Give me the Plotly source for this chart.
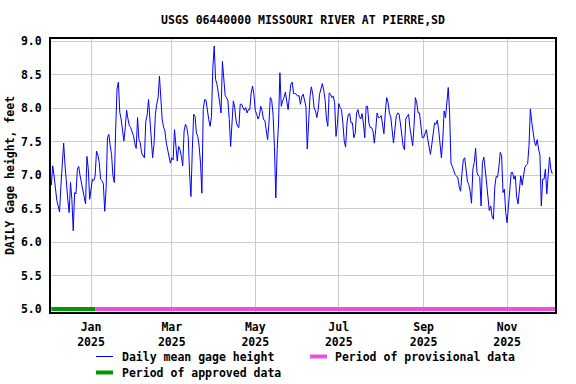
import pandas as pd
import plotly.graph_objects as go

# ---------------- data ----------------
start_date = "2024-12-03"

gh_dec_jan = [6.85, 7.14, 6.99, 6.77, 6.62, 6.54, 6.45, 6.84, 7.17, 7.48,
              7.15, 6.84, 6.64, 6.44, 6.89, 6.64, 6.17, 6.74, 6.72, 7.09,
              7.13, 6.99, 6.89, 6.77, 6.67, 6.57, 7.28, 7.09, 6.64, 6.79,
              6.94, 6.92, 6.99, 7.36, 7.30, 7.19, 6.94, 6.92, 6.87, 6.46,
              6.79, 7.56, 7.61, 7.44, 7.31, 6.99, 6.89, 7.69, 8.29, 8.39,
              7.94, 7.84, 7.64, 7.51, 7.71, 7.97, 7.84, 7.74, 7.71, 7.66,
              7.59, 7.47]
gh_feb_apr = [7.40, 7.86, 7.53, 7.48, 7.33, 7.29, 7.26, 7.80, 7.90, 8.13,
              7.86, 7.63, 7.26, 7.46, 7.91, 8.06, 8.16, 8.48, 8.08, 7.83,
              7.72, 7.66, 7.48, 7.38, 7.31, 7.18, 7.26, 7.23, 7.68, 7.48,
              7.21, 7.43, 7.38, 7.28, 7.14, 7.66, 7.76, 7.71, 7.58, 7.03,
              6.68, 7.38, 7.91, 7.88, 7.63, 7.58, 7.43, 7.18, 6.73, 7.98,
              8.13, 8.12, 7.96, 7.83, 7.73, 7.88, 8.61, 8.93, 8.43, 8.36,
              8.23]
gh_apr_jun = [8.08, 7.93, 8.70, 8.40, 8.19, 8.16, 8.11, 7.83, 7.43, 7.78,
              8.11, 8.01, 7.81, 7.73, 7.71, 8.06, 8.06, 8.01, 7.97, 8.01,
              7.93, 7.98, 7.98, 8.23, 8.33, 8.21, 7.97, 7.91, 7.84, 7.89,
              8.03, 7.96, 7.83, 7.82, 7.66, 7.53, 7.78, 8.16, 8.12, 7.91,
              7.43, 6.66, 7.38, 7.78, 8.53, 8.03, 8.11, 8.16, 8.24, 8.11,
              7.98, 8.18, 8.36, 8.39, 8.22, 8.22, 8.21, 8.18, 8.19, 8.06,
              8.17, 8.21]
gh_jun_aug = [8.14, 8.03, 7.39, 7.73, 8.18, 8.32, 8.21, 8.01, 7.96, 7.86,
              7.98, 8.21, 8.29, 8.37, 8.27, 8.13, 7.84, 7.73, 8.23, 8.21,
              8.16, 8.18, 8.08, 7.58, 7.76, 8.07, 8.01, 7.98, 7.78, 7.51,
              7.42, 7.78, 7.91, 7.92, 7.78, 7.78, 7.56, 7.62, 7.93, 7.98,
              7.88, 7.84, 7.92, 7.78, 7.56, 8.03, 8.03, 7.78, 7.71, 7.71,
              7.66, 7.48, 7.68, 7.93, 7.86, 7.86, 7.89, 7.77, 7.62, 7.93,
              8.16]
gh_aug_oct = [8.09, 7.93, 7.87, 7.68, 7.48, 7.68, 7.88, 7.93, 7.92, 7.78,
              7.61, 7.44, 7.38, 7.84, 7.88, 7.91, 7.71, 7.58, 7.44, 7.73,
              8.16, 8.08, 7.93, 7.93, 7.69, 7.56, 7.56, 7.63, 7.68, 7.54,
              7.41, 7.31, 7.46, 7.67, 7.78, 7.76, 7.82, 7.68, 7.49, 7.26,
              7.53, 7.96, 7.86, 8.08, 8.31, 7.93, 7.18, 7.13, 7.06, 7.01,
              6.99, 6.96, 6.83, 6.76, 7.02, 7.23, 7.26, 7.03, 6.91, 6.86,
              6.76, 6.58]
gh_oct_dec = [7.09, 7.19, 7.40, 7.04, 6.99, 6.97, 6.54, 7.19, 7.27, 7.09,
              6.85, 6.69, 6.47, 6.54, 6.39, 6.34, 6.82, 6.98, 6.97, 7.12,
              7.34, 7.29, 6.74, 6.79, 6.44, 6.29, 6.57, 6.89, 7.04, 7.04,
              6.94, 6.99, 6.67, 6.57, 6.79, 6.99, 6.85, 7.02, 7.12, 7.15,
              7.17, 7.44, 7.99, 7.80, 7.63, 7.50, 7.44, 7.53, 7.39, 7.30,
              6.54, 6.94, 6.94, 7.09, 6.72, 7.02, 7.27, 7.09, 7.02]

gage_height = gh_dec_jan + gh_feb_apr + gh_apr_jun + gh_jun_aug + gh_aug_oct + gh_oct_dec
dates = pd.date_range(start_date, periods=len(gage_height), freq="D")

approved_period = ["2024-12-03", "2025-01-04"]
provisional_period = ["2025-01-04", "2025-12-06"]
band_level = [5.0, 5.0]

tick_dates = ["2025-01-01", "2025-03-01", "2025-05-01", "2025-07-01", "2025-09-01", "2025-11-01"]
tick_labels = ["Jan<br>2025", "Mar<br>2025", "May<br>2025", "Jul<br>2025", "Sep<br>2025", "Nov<br>2025"]
y_ticks = [5.0, 5.5, 6.0, 6.5, 7.0, 7.5, 8.0, 8.5, 9.0]
y_tick_labels = ["5.0", "5.5", "6.0", "6.5", "7.0", "7.5", "8.0", "8.5", "9.0"]

title_text = "USGS 06440000 MISSOURI RIVER AT PIERRE,SD"
y_title = "DAILY Gage height, feet"
legend_labels = ["Daily mean gage height", "Period of provisional data", "Period of approved data"]

# ---------------- style ----------------
BLUE = "#0000FF"
GREEN = "#009900"
PINK = "#EE4EDC"
GRID = "#CCCCCC"
FONT = dict(family="DejaVu Sans Mono", size=11.5, color="black", weight="bold")

fig = go.Figure()
fig.add_trace(go.Scatter(x=dates, y=gage_height, mode="lines",
                         line=dict(color=BLUE, width=1), showlegend=False))
fig.add_trace(go.Scatter(x=approved_period, y=band_level, mode="lines",
                         line=dict(color=GREEN, width=4), showlegend=False))
fig.add_trace(go.Scatter(x=provisional_period, y=band_level, mode="lines",
                         line=dict(color=PINK, width=4), showlegend=False))

axis_common = dict(showgrid=True, gridcolor=GRID, gridwidth=1, showline=True,
                   linecolor="black", linewidth=2, mirror=True, ticks="",
                   zeroline=False, tickfont=FONT, automargin=False)

fig.update_layout(
    width=576, height=384,
    margin=dict(l=51, r=21, t=39, b=72, autoexpand=False),
    paper_bgcolor="white", plot_bgcolor="white",
    font=FONT,
    showlegend=False,
    title=dict(text=title_text, x=0.5, xref="paper", xanchor="center",
               y=1 - 20 / 384, yref="container", yanchor="middle", font=FONT),
    xaxis=dict(type="date", range=["2024-12-02 18:00", "2025-12-06"],
               tickmode="array", tickvals=tick_dates, ticktext=tick_labels,
               ticklabelstandoff=3, **axis_common),
    yaxis=dict(range=[4.955, 9.035], tickmode="array", tickvals=y_ticks,
               ticktext=y_tick_labels, ticklabelstandoff=5,
               title=dict(text=y_title, font=FONT, standoff=4), **axis_common),
)

# manual legend (paper coordinates)
W, H = 504.0, 273.0
def px(x):
    return (x - 51) / W
def py(y):
    return (312.5 - y) / H

legend_items = [
    (legend_labels[0], BLUE, 1, 96, 113, 120, 357),
    (legend_labels[1], PINK, 4, 310, 327, 333, 357),
    (legend_labels[2], GREEN, 4, 96, 113, 120, 373),
]
for label, color, lw, x0, x1, xt, yy in legend_items:
    fig.add_shape(type="line", xref="paper", yref="paper",
                  x0=px(x0), x1=px(x1), y0=py(yy), y1=py(yy),
                  line=dict(color=color, width=lw))
    fig.add_annotation(text=label, xref="paper", yref="paper", x=px(xt), y=py(yy),
                       xanchor="left", yanchor="middle", showarrow=False, font=FONT)

fig.write_html("out.html", config={"displayModeBar": False},
               post_script="document.body.style.margin='0';document.body.style.padding='0';")
